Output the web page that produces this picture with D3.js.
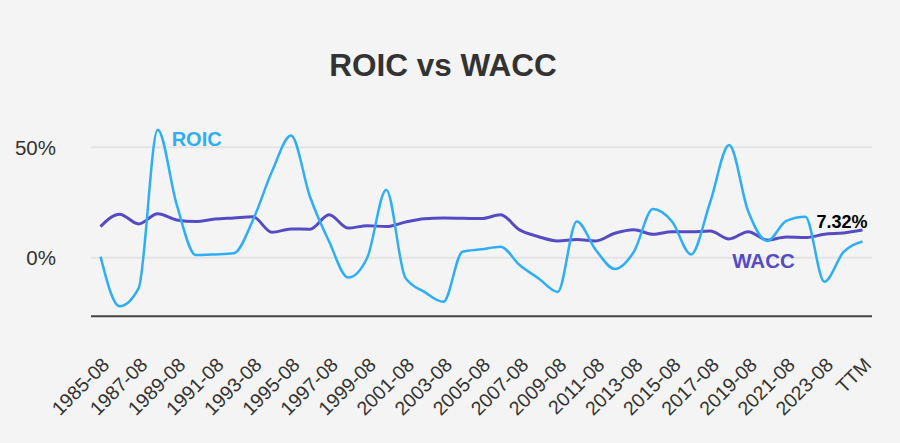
<!DOCTYPE html>
<html>
<head>
<meta charset="utf-8">
<script src="https://cdn.jsdelivr.net/npm/d3@7"></script>
<style>
  html, body { margin: 0; padding: 0; background: #f4f4f4; }
  svg { display: block; font-family: "Liberation Sans", Arial, sans-serif; }
</style>
</head>
<body>
<svg id="chart" width="900" height="443"></svg>
<script>
const categories = ["1985-08","1986-08","1987-08","1988-08","1989-08","1990-08","1991-08","1992-08","1993-08","1994-08",
  "1995-08","1996-08","1997-08","1998-08","1999-08","2000-08","2001-08","2002-08","2003-08","2004-08",
  "2005-08","2006-08","2007-08","2008-08","2009-08","2010-08","2011-08","2012-08","2013-08","2014-08",
  "2015-08","2016-08","2017-08","2018-08","2019-08","2020-08","2021-08","2022-08","2023-08","2024-08","TTM"];
const roic = [0.5,-22.0,-13.8,58.0,24.0,1.2,1.5,2.0,17.0,39.0,
  55.3,27.5,7.3,-9.0,0.0,30.8,-9.0,-15.5,-20.0,2.7,
  3.8,5.0,-3.3,-9.4,-15.5,16.4,3.5,-5.1,2.7,22.0,
  16.4,1.5,25.0,51.0,21.0,7.6,16.7,18.6,-10.9,2.5,7.32];
const wacc = [14.1,19.7,15.3,19.9,17.1,16.4,17.5,18.0,18.5,11.5,
  13.0,12.9,19.4,13.4,14.5,14.1,16.1,17.6,18.0,17.9,
  17.7,19.4,12.6,9.5,7.6,8.2,7.6,11.1,12.7,10.6,
  11.8,11.7,12.1,8.5,11.8,8.0,9.4,9.1,10.6,11.2,12.5];
const yTicks = [0, 50];
const title = "ROIC vs WACC";

const svg = d3.select("#chart");
const left = 91, right = 872;

const x = d3.scaleBand().domain(categories).range([left, right]);
const y = d3.scaleLinear().domain([0, 50]).range([257.7, 147.3]);
const cx = d => x(d) + x.bandwidth() / 2;

svg.append("rect").attr("width", 900).attr("height", 443).attr("fill", "#f4f4f4");

svg.append("text").attr("x", 443).attr("y", 76).attr("text-anchor", "middle")
  .attr("font-size", 31.5).attr("font-weight", "bold").attr("fill", "#333").text(title);

// grid
svg.selectAll(".grid").data(yTicks).join("line")
  .attr("x1", left).attr("x2", right)
  .attr("y1", d => y(d)).attr("y2", d => y(d))
  .attr("stroke", "#e4e4e4").attr("stroke-width", 2);

svg.selectAll(".ylab").data(yTicks).join("text")
  .attr("x", 56).attr("y", d => y(d) + 7.5).attr("text-anchor", "end")
  .attr("font-size", 20.5).attr("fill", "#333").text(d => d + "%");

// axis line
const yBottom = y(-26.5);
svg.append("line").attr("x1", left).attr("x2", right).attr("y1", yBottom).attr("y2", yBottom)
  .attr("stroke", "#444").attr("stroke-width", 2);

// x labels
const shown = categories.filter((d, i) => i % 2 === 0);
svg.selectAll(".xlab").data(shown).join("text")
  .attr("transform", d => `translate(${cx(d) + 10},${366}) rotate(-45)`)
  .attr("text-anchor", "end").attr("font-size", 19.5).attr("fill", "#333").text(d => d);

const line = vals => d3.line()
  .x((d, i) => cx(categories[i]))
  .y(d => y(d))
  .curve(d3.curveMonotoneX)(vals);

svg.append("path").attr("d", line(wacc)).attr("fill", "none")
  .attr("stroke", "#574bc4").attr("stroke-width", 3);
svg.append("path").attr("d", line(roic)).attr("fill", "none")
  .attr("stroke", "#2eaef6").attr("stroke-width", 2.5);

// labels
svg.append("text").attr("x", cx(categories[3]) + 14).attr("y", 146)
  .attr("font-size", 20).attr("font-weight", "bold").attr("fill", "#2eaef6").text("ROIC");
svg.append("text").attr("x", cx(categories[33]) + 3).attr("y", 268)
  .attr("font-size", 20.5).attr("font-weight", "bold").attr("fill", "#574bc4").text("WACC");
svg.append("text").attr("x", cx(categories[40]) + 5).attr("y", 228).attr("text-anchor", "end")
  .attr("font-size", 18).attr("font-weight", "bold").attr("fill", "#000").text(roic[40].toFixed(2) + "%");
</script>
</body>
</html>
